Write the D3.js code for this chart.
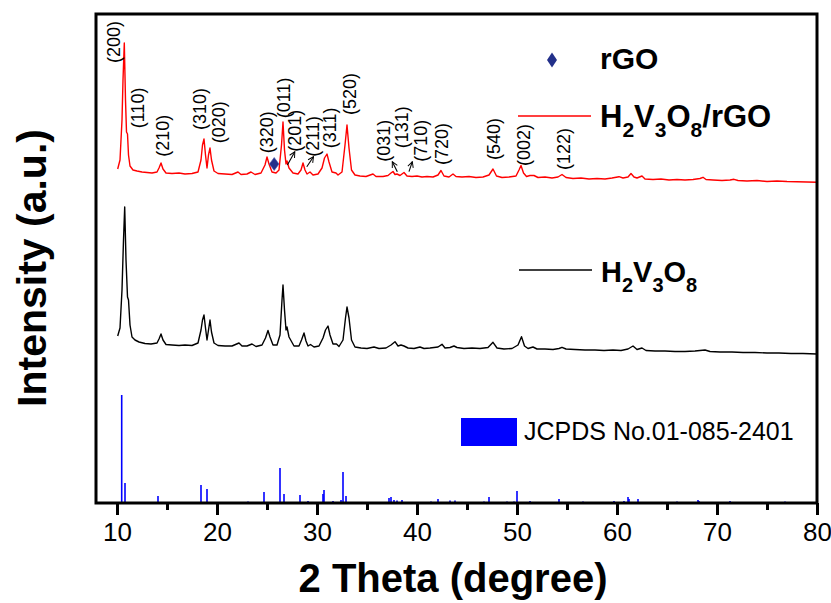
<!DOCTYPE html>
<html>
<head>
<meta charset="utf-8">
<script src="https://cdn.jsdelivr.net/npm/d3@7"></script>
<style>
  body { margin: 0; background: #fff; }
  svg { display: block; font-family: "Liberation Sans", Arial, sans-serif; }
  .tick-lbl text { font-family: "Liberation Sans Narrow", "Arial Narrow", "Liberation Sans", sans-serif; }
</style>
</head>
<body>
<div id="chart"></div>
<script>
// H2V3O8/rGO pattern (stacked, arbitrary units)
const compTheta = [10.07,10.3,10.5,10.6,10.73,10.85,10.95,11.05,11.15,11.3,11.6,12.0,12.5,13.0,13.5,14.0,14.2,14.4,14.6,14.9,
  15.5,16.2,16.8,17.5,18.1,18.4,18.55,18.7,18.85,19.0,19.15,19.3,19.45,19.7,20.1,20.8,21.5,22.1,22.4,23.0,
  23.4,23.8,24.4,24.8,25.0,25.2,25.5,25.9,26.2,26.45,26.6,26.75,26.9,27.0,27.2,27.6,28.1,28.4,28.6,28.8,
  29.0,29.3,29.6,30.1,30.5,30.75,31.0,31.2,31.5,31.9,32.1,32.5,32.8,33.0,33.2,33.45,33.8,34.3,34.9,35.6,
  35.9,36.6,37.1,37.4,37.6,37.8,38.0,38.3,38.7,39.0,39.5,40.0,40.5,41.0,41.6,42.1,42.4,42.7,43.2,43.6,
  43.9,44.5,45.2,45.9,46.6,47.2,47.6,47.95,48.5,49.2,49.9,50.2,50.4,50.65,50.95,51.3,51.7,52.1,52.8,53.5,
  54.1,54.5,54.9,55.6,56.4,57.2,58.0,58.8,59.5,60.2,60.6,61.1,61.4,61.7,62.0,62.5,62.8,63.6,64.4,65.2,
  66.0,66.8,67.6,68.3,68.6,68.9,69.6,70.5,71.3,71.7,72.1,73.0,74.0,75.0,76.0,77.0,78.0,79.0,80.0]
const compCounts = [334,343,383,423,460,403,371,369,348,337,333,332,331,330.5,330,331,335,340,334,330,
  329.5,330,329,329.5,331,343,358,364,348,335,348,355,343,332,329.5,329,328.5,331,328.5,329,
  331,328.5,330,338,346,339,331,330,333,358,381,353,339,342,335,330,329,333,340,333,
  329,331,328,329,335,345,349,341,331,330,328,331,358,378,355,333,328,327,326.5,329,
  326.5,326.5,327.5,330,331.5,328.5,329,327.5,330.5,327,326.5,327,326,326.5,326,328,332.5,327,326,329,
  326.5,326,326.5,325.5,326,328,334,327,325.5,326,327,333,337.5,330,326.5,327.5,327.5,325.5,326,325,
  326,328.5,325.5,324.5,325,324,324.5,324,325,326.3,325,326,329.5,326,325,327,324,323.5,324,323,
  323.5,323,323.5,324.5,325.7,323.5,323,322.5,323,323.7,322.5,322,322.5,321.5,322,321.5,321.3,321,320.7]

// H2V3O8 pattern
const hvoTheta = [10.07,10.3,10.5,10.65,10.77,10.9,11.05,11.15,11.3,11.5,11.8,12.2,12.8,13.4,14.0,14.2,14.4,14.6,14.9,15.5,
  16.2,16.8,17.5,18.1,18.4,18.55,18.7,18.85,19.0,19.15,19.3,19.45,19.7,20.1,20.8,21.5,22.2,22.5,23.0,23.5,
  23.9,24.5,24.85,25.1,25.3,25.6,26.0,26.3,26.5,26.6,26.75,26.9,27.0,27.2,27.7,28.2,28.45,28.7,28.9,29.1,
  29.35,29.7,30.2,30.6,30.85,31.1,31.3,31.6,31.95,32.2,32.6,32.85,33.0,33.2,33.45,33.8,34.4,35.0,35.7,36.2,
  36.9,37.4,37.8,38.1,38.4,38.7,39.1,39.7,40.3,40.7,41.3,42.1,42.5,42.8,43.3,43.7,44.0,44.7,45.5,46.3,
  47.1,47.6,48.0,48.7,49.5,50.1,50.45,50.75,51.1,51.6,52.0,52.8,53.6,54.2,54.5,54.9,55.8,56.8,57.8,58.7,
  59.6,60.4,61.1,61.6,62.0,62.5,62.9,63.8,64.8,65.8,66.8,67.8,68.8,69.3,70.3,71.5,72.6,73.8,75.0,76.2,
  77.4,78.6,80.0]
const hvoCounts = [167,175,213,263,296,243,206,203,178,166,163,161,159.5,159,160,164,169,163,158.5,158,
  157.5,158,157.5,160,173,183,188,175,163,173,183,171,160,157.5,157,157,160,157,157,159,
  156.5,158,165,172.5,166,158,158,168,203,218,193,173,176,166,157,157,163,170,162,157,
  158.5,156,157,165,173,177,168,159,159,156.5,163,185,196,185,163,156,155,154.5,156,154.5,
  155,158,161.3,157,158,157,155,154.5,156,154.5,155,156,158.7,155,155.5,157,155.5,154.5,155,154.5,
  155.5,160.7,155,154,154.5,158,166.3,157,154.5,156,154,154,153.5,154.5,155.7,154,153.5,153,153,152.5,
  153,152.5,154,157,153.5,155,152.5,152,152,151.5,151.5,152,153,151.5,151,151,150.5,150.5,150,150,
  149.5,149.5,149]

// JCPDS No.01-085-2401 reference lines
const refTheta  = [10.47,10.8,14.1,18.4,19.0,21.7,23.1,24.7,26.3,26.7,28.3,29.1,30.6,30.7,31.6,32.4,32.6,32.9,
  37.2,37.4,37.7,38.0,38.5,41.4,42.1,43.3,43.8,46.7,47.2,49.0,49.7,50.0,51.3,54.2,56.6,59.7,60.7,61.1,61.2,
  62.1,66.0,68.1,68.2,71.3,76.8]
const refCounts = [108,20,7,18,14,1,1.5,11,35,9,8,2,9,13,2,3,31,7,
  5,6,3,2.5,3,1.5,4,2.5,2.5,1.5,6,1.5,1.5,12,2,4,1.5,2,2,6,4,
  4,1.5,3,2,2,1.5]

// (hkl) annotations: text, 2θ of label, level of label foot
const hklText  = ['(200)','(110)','(210)','(310)','(020)','(320)','(011)','(201)','(211)','(311)','(520)',
  '(031)','(131)','(710)','(720)','(540)','(002)','(122)']
const hklTheta = [9.73,12.07,14.57,18.32,20.22,24.96,26.71,27.78,29.55,31.31,33.28,
  36.7,38.54,40.37,42.54,47.69,50.69,54.69]
const hklLevel = [440,374.7,346.3,373,359.7,349.7,384.7,351.3,346.3,354.7,388,
  341.3,354.7,341.3,338,343,337,333]

// pointer arrows [from θ, from level, to θ, to level]
const arrowFrom = [[27.04,338],[28.98,336.3],[38.03,331.3],[39.2,331.3]]
const arrowTo   = [[27.78,351.3],[29.65,346.3],[37.53,341.3],[39.53,341.3]]

// rGO reflection marker
const rgoMark = [25.72, 339]

const majorTicks = [10,20,30,40,50,60,70,80]
const minorTicks = [15,25,35,45,55,65,75]

const W = 831, H = 603
const plot = { left: 96, right: 817, top: 14, bottom: 503 }

const x = d3.scaleLinear().domain([7.9, 80]).range([plot.left, plot.right])
const y = d3.scaleLinear().domain([0, 489]).range([plot.bottom, plot.top])

const svg = d3.select('#chart').append('svg')
  .attr('width', W).attr('height', H)

const defs = svg.append('defs')
defs.append('marker')
  .attr('id', 'head')
  .attr('viewBox', '0 0 10 10')
  .attr('refX', 9).attr('refY', 5)
  .attr('markerWidth', 7).attr('markerHeight', 7)
  .attr('markerUnits', 'userSpaceOnUse')
  .attr('orient', 'auto')
  .append('path')
  .attr('d', 'M1,1 L9,5 L1,9')
  .attr('fill', 'none').attr('stroke', '#000').attr('stroke-width', 1.4)

// reference sticks
svg.append('g').selectAll('line')
  .data(refTheta.map((t, i) => [t, refCounts[i]]))
  .join('line')
  .attr('x1', d => x(d[0])).attr('x2', d => x(d[0]))
  .attr('y1', y(0)).attr('y2', d => y(d[1]))
  .attr('stroke', '#0000ff').attr('stroke-width', 1.6)

const line = d3.line().x(d => x(d[0])).y(d => y(d[1]))

svg.append('path')
  .datum(hvoTheta.map((t, i) => [t, hvoCounts[i]]))
  .attr('d', line).attr('fill', 'none')
  .attr('stroke', '#000').attr('stroke-width', 1.4).attr('stroke-linejoin', 'round')

svg.append('path')
  .datum(compTheta.map((t, i) => [t, compCounts[i]]))
  .attr('d', line).attr('fill', 'none')
  .attr('stroke', '#ff0000').attr('stroke-width', 1.4).attr('stroke-linejoin', 'round')

// rGO diamond on the pattern
const diamond = (cx, cy, w, h) => `M${cx},${cy - h} L${cx + w},${cy} L${cx},${cy + h} L${cx - w},${cy} Z`
svg.append('path')
  .attr('d', diamond(x(rgoMark[0]), y(rgoMark[1]), 4.8, 6.5))
  .attr('fill', '#23308a').attr('stroke', '#4a55a8').attr('stroke-width', 0.6)

// hkl labels
svg.append('g').selectAll('text')
  .data(hklText)
  .join('text')
  .attr('transform', (d, i) => `translate(${x(hklTheta[i])},${y(hklLevel[i])}) rotate(-90)`)
  .attr('dominant-baseline', 'central')
  .attr('font-size', 18)
  .text(d => d)

svg.append('g').selectAll('line')
  .data(arrowFrom)
  .join('line')
  .attr('x1', d => x(d[0])).attr('y1', d => y(d[1]))
  .attr('x2', (d, i) => x(arrowTo[i][0])).attr('y2', (d, i) => y(arrowTo[i][1]))
  .attr('stroke', '#000').attr('stroke-width', 1.1)
  .attr('marker-end', 'url(#head)')

// axes
const gx = svg.append('g').attr('class', 'tick-lbl')
  .attr('transform', `translate(0,${plot.bottom})`)
  .call(d3.axisBottom(x).tickValues(majorTicks).tickSize(12).tickPadding(8).tickFormat(d3.format('d')))
gx.select('.domain').remove()
gx.selectAll('line').attr('stroke-width', 3)
gx.selectAll('text').attr('font-size', 26).attr('fill', '#000')

const gm = svg.append('g')
  .attr('transform', `translate(0,${plot.bottom})`)
  .call(d3.axisBottom(x).tickValues(minorTicks).tickSize(7).tickFormat(''))
gm.select('.domain').remove()
gm.selectAll('line').attr('stroke-width', 3)

// frame
svg.append('rect')
  .attr('x', plot.left).attr('y', plot.top)
  .attr('width', plot.right - plot.left).attr('height', plot.bottom - plot.top)
  .attr('fill', 'none').attr('stroke', '#000').attr('stroke-width', 3)

// axis titles
svg.append('text')
  .attr('x', 453).attr('y', 592)
  .attr('text-anchor', 'middle')
  .attr('font-size', 40).attr('font-weight', 'bold')
  .text('2 Theta (degree)')

svg.append('text')
  .attr('transform', 'translate(46,268) rotate(-90)')
  .attr('text-anchor', 'middle')
  .attr('font-size', 41).attr('font-weight', 'bold')
  .text('Intensity (a.u.)')

// legend
const leg = svg.append('g')
leg.append('path').attr('d', diamond(552, 60, 5, 7.5)).attr('fill', '#23308a')
leg.append('text').attr('x', 600).attr('y', 69)
  .attr('font-size', 30).attr('font-weight', 'bold').text('rGO')

function formula (g, px, py, size, parts) {
  const t = g.append('text').attr('x', px).attr('y', py)
    .attr('font-size', size).attr('font-weight', 'bold')
  const subSize = Math.round(size * 0.68)
  let down = false
  parts.forEach(p => {
    const sub = /^\d$/.test(p)
    const ts = t.append('tspan').text(p).attr('font-size', sub ? subSize : size)
    if (sub && !down) { ts.attr('dy', 10); down = true }
    else if (!sub && down) { ts.attr('dy', -10); down = false }
  })
}

leg.append('line').attr('x1', 518).attr('x2', 591).attr('y1', 116).attr('y2', 116)
  .attr('stroke', '#ff0000').attr('stroke-width', 1.5)
formula(leg, 600, 127, 31, ['H', '2', 'V', '3', 'O', '8', '/rGO'])

leg.append('line').attr('x1', 519).attr('x2', 592).attr('y1', 270).attr('y2', 270)
  .attr('stroke', '#000').attr('stroke-width', 1.5)
formula(leg, 601, 282, 29, ['H', '2', 'V', '3', 'O', '8'])

leg.append('rect').attr('x', 461).attr('y', 418).attr('width', 56).attr('height', 28)
  .attr('fill', '#0000ff')
leg.append('text').attr('x', 524).attr('y', 440)
  .attr('font-size', 25).text('JCPDS No.01-085-2401')
</script>
</body>
</html>
